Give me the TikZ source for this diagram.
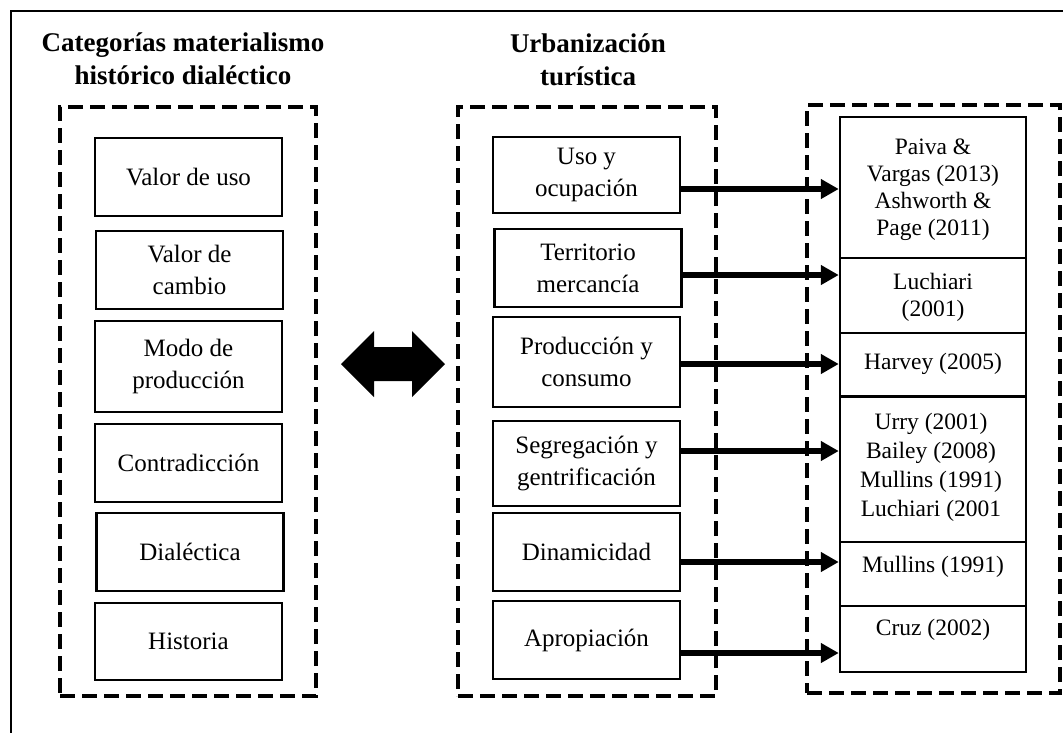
\documentclass[tikz,border=0pt]{standalone}
\usepackage{fontspec}
\setmainfont{Liberation Serif}
\usetikzlibrary{arrows.meta,calc}
\begin{document}
\begin{tikzpicture}[x=1pt,y=-1pt,
  frame/.style={line width=2.5pt},
  group/.style={draw, line width=4.8pt, dash pattern=on 15pt off 7pt, inner sep=0pt},
  lbox/.style={draw, line width=2.5pt, minimum width=187pt, inner sep=0pt, align=center, font=\fontsize{25}{32}\selectfont},
  rbox/.style={draw, line width=2.5pt, minimum width=186pt, inner sep=0pt},
  rtxt/.style={inner sep=0pt, align=center, font=\fontsize{23.5}{27}\selectfont},
  ttl/.style={inner sep=0pt, align=center, font=\bfseries\fontsize{27}{33}\selectfont},
  link/.style={line width=6.5pt, -{Triangle[length=18pt,width=19pt]}}
]
\useasboundingbox (0,0) rectangle (1063,732);
\clip (0,0) rectangle (1063,732);
\fill[white] (0,0) rectangle (1063,732);
% outer frame (extends beyond the visible area)
\draw[frame] (11,760) -- (11,11) -- (1090,11);

% titles
\node[ttl] (t1) at (183,58.5) {Categorías materialismo\\histórico dialéctico};
\node[ttl] (t2) at (588,59.5) {Urbanización\\turística};

% dashed groups
\node[group, minimum width=256pt, minimum height=589pt] (g1) at (188,401.5) {};
\node[group, minimum width=258pt, minimum height=589pt] (g2) at (587,401.5) {};
\node[group, minimum width=253pt, minimum height=588pt] (g3) at (933.5,399) {};

% left column
\node[lbox, minimum height=78pt] (l1) at (188.5,177) {Valor de uso};
\node[lbox, minimum height=78pt] (l2) at (189.5,270) {Valor de\\cambio};
\node[lbox, minimum height=91pt] (l3) at (188.5,366.5) {Modo de\\producción};
\node[lbox, minimum height=78pt] (l4) at (188.5,463) {Contradicción};
\node[lbox, minimum height=78pt] (l5) at (190,552) {Dialéctica};
\node[lbox, minimum height=77pt] (l6) at (188.5,641.5) {Historia};

% double arrow
\fill (341,364) -- (374,331) -- (374,347) -- (412,347) -- (412,331) -- (445,364)
  -- (412,397) -- (412,381) -- (374,381) -- (374,397) -- cycle;

% middle column
\node[lbox, minimum height=76pt] (m1) at (586.5,175) {Uso y\\ocupación};
\node[lbox, minimum height=78pt] (m2) at (588,268) {Territorio\\mercancía};
\node[lbox, minimum height=90pt] (m3) at (586.5,362) {Producción y\\consumo};
\node[lbox, minimum height=85pt] (m4) at (586.5,463.5) {Segregación y\\gentrificación};
\node[lbox, minimum height=78pt] (m5) at (586.5,552) {Dinamicidad};
\node[lbox, minimum height=78pt] (m6) at (586.5,640) {Apropiación};

% right column
\node[rbox, minimum height=141pt] (r1) at (933,187.5) {};
\node[rbox, minimum height=75pt] (r2) at (933,295.5) {};
\node[rbox, minimum height=63pt] (r3) at (933,364.5) {};
\node[rbox, minimum height=145pt] (r4) at (933,469.5) {};
\node[rbox, minimum height=64pt] (r5) at (933,574) {};
\node[rbox, minimum height=66pt] (r6) at (933,639) {};

\node[rtxt] (r1t) at (933,190) {Paiva \&\\Vargas (2013)\\Ashworth \&\\Page (2011)};
\node[rtxt] (r2t) at (933,297) {Luchiari\\(2001)};
\node[rtxt] (r3t) at (933,364) {Harvey (2005)};
\node[rtxt, font=\fontsize{23.5}{29}\selectfont] (r4t) at (931,467) {Urry (2001)\\Bailey (2008)\hspace*{13pt}\\Mullins (1991)\\Luchiari (2001};
\node[rtxt] (r5t) at (933,567) {Mullins (1991)};
\node[rtxt] (r6t) at (933,630) {Cruz (2002)};

% connectors
\coordinate (y1) at (0,189);
\coordinate (y2) at (0,275);
\coordinate (y3) at (0,364);
\coordinate (y4) at (0,451);
\coordinate (y5) at (0,562);
\coordinate (y6) at (0,653);
\draw[link] (m1.east |- y1) -- (r1.west |- y1);
\draw[link] (m2.east |- y2) -- (r2.west |- y2);
\draw[link] (m3.east |- y3) -- (r3.west |- y3);
\draw[link] (m4.east |- y4) -- (r4.west |- y4);
\draw[link] (m5.east |- y5) -- (r5.west |- y5);
\draw[link] (m6.east |- y6) -- (r6.west |- y6);
\end{tikzpicture}
\end{document}
